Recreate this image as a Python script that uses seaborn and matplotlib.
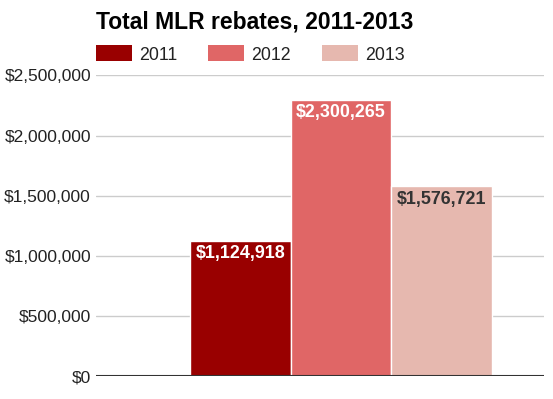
import matplotlib
matplotlib.use("Agg")
import matplotlib.pyplot as plt
import seaborn as sns
import pandas as pd
from matplotlib.patches import Patch
from matplotlib.ticker import FuncFormatter

years = ["2011", "2012", "2013"]
rebates = [1124918, 2300265, 1576721]
colors = ["#990000", "#e06666", "#e6b8af"]
label_colors = ["white", "white", "#333333"]
yticks = [0, 500000, 1000000, 1500000, 2000000, 2500000]
title = "Total MLR rebates, 2011-2013"

sns.set_style("white")
plt.rcParams["font.family"] = ["Liberation Sans", "DejaVu Sans"]

df = pd.DataFrame({"year": years, "rebate": rebates})

fig = plt.figure(figsize=(5.53, 3.99), dpi=100)
ax = fig.add_axes([96/553, 1-376/399, (544-96)/553, (376-75.5)/399])

sns.barplot(data=df, x="year", y="rebate", hue="year", palette=colors,
            dodge=False, width=1.0, edgecolor="white", linewidth=1,
            legend=False, ax=ax, saturation=1)

ax.set_xlim(-1.433, 3.016)
ax.set_ylim(0, 2500000)
ax.set_yticks(yticks)
ax.yaxis.set_major_formatter(FuncFormatter(lambda v, p: f"${int(v):,}"))
ax.tick_params(axis="y", length=0, pad=3.6, labelsize=12.5, labelcolor="#222222")
ax.set_xticks([])
ax.set_xlabel("")
ax.set_ylabel("")
ax.grid(axis="y", color="#cccccc", linewidth=1)
ax.set_axisbelow(True)
for s in ["top", "right", "left", "bottom"]:
    ax.spines[s].set_visible(False)
ax.axhline(0, color="#333333", linewidth=1.5, zorder=5)

for i, (v, c) in enumerate(zip(rebates, label_colors)):
    ax.annotate(f"${v:,}", xy=(i, v), xytext=(0, -3), textcoords="offset points",
                ha="center", va="top", color=c, fontsize=12.9, fontweight="bold")

fig.text(96/553, 1-22/399, title, ha="left", va="center", fontsize=16.5,
         fontweight="bold", color="black")

handles = [Patch(facecolor=c, edgecolor="none") for c in colors]
fig.legend(handles, years, loc="center left", bbox_to_anchor=(96/553, 1-54.5/399),
           ncol=3, frameon=False, fontsize=12.8, handlelength=2.02,
           handleheight=1.0, handletextpad=0.4, columnspacing=1.75,
           borderpad=0, borderaxespad=0, labelcolor="#222222")

fig.savefig("out.png", dpi=100)
